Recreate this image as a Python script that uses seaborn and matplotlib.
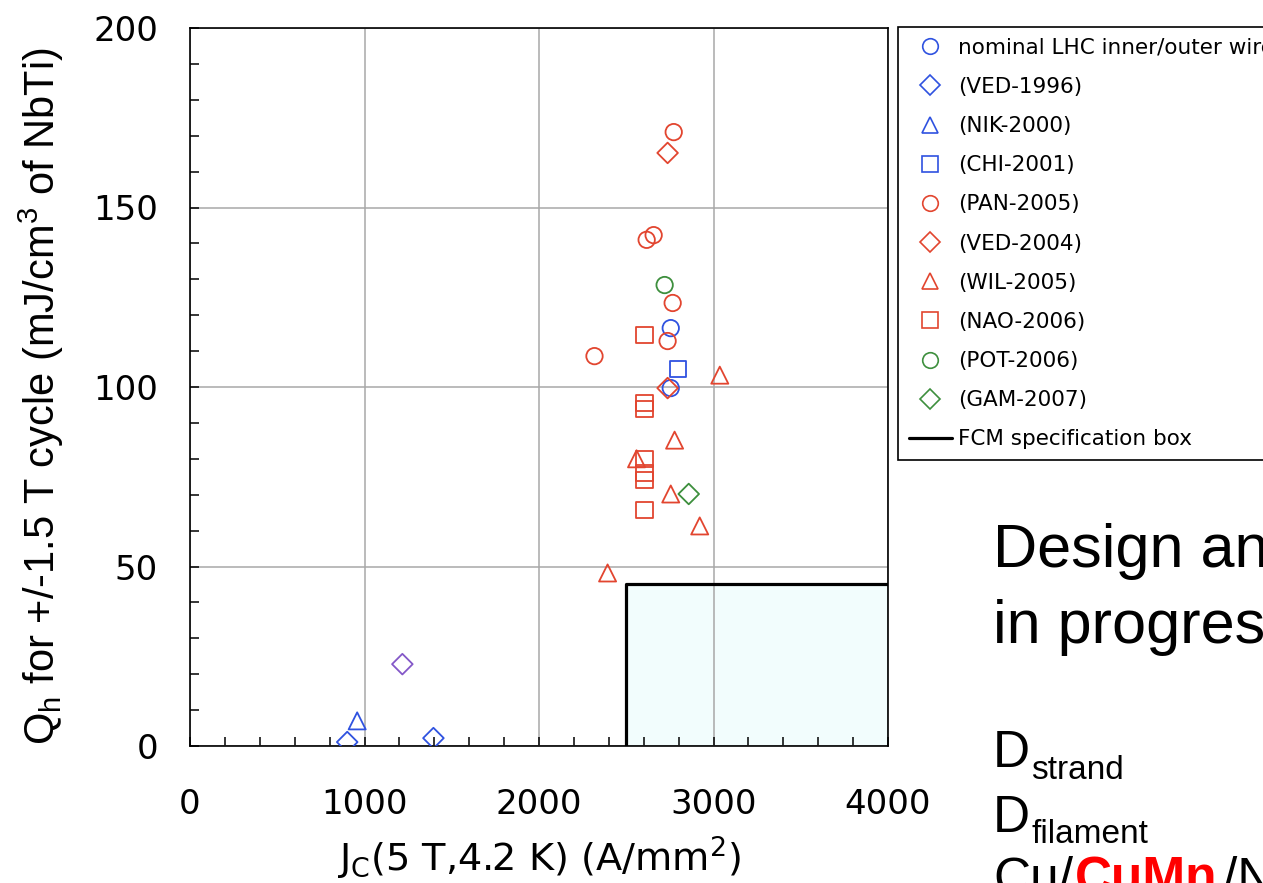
import numpy as np
import pandas as pd
import matplotlib
matplotlib.use("Agg")
import matplotlib.pyplot as plt
import seaborn as sns
from matplotlib.lines import Line2D
from matplotlib.ticker import MultipleLocator

# ---------------- data ----------------
nominal_jc = [2755, 2755]
nominal_qh = [116.4, 99.7]
ved1996_jc = [901, 1395]
ved1996_qh = [1.1, 2.2]
nik2000_jc = [958]
nik2000_qh = [7.0]
chi2001_jc = [2795]
chi2001_qh = [105.0]
pan2005_jc = [2772, 2657, 2617, 2766, 2737, 2318]
pan2005_qh = [171.0, 142.3, 141.0, 123.4, 112.8, 108.6]
ved2004_jc = [2737, 2737]
ved2004_qh = [165.2, 99.7]
wil2005_jc = [3036, 2777, 2559, 2755, 2921, 2393]
wil2005_qh = [103.3, 85.2, 80.0, 70.2, 61.3, 48.2]
nao2006_jc = [2605, 2605, 2605, 2605, 2605, 2605, 2605]
nao2006_qh = [114.5, 95.5, 93.9, 80.0, 76.0, 74.1, 65.7]
pot2006_jc = [2720]
pot2006_qh = [128.4]
gam2007_jc = [2858]
gam2007_qh = [70.2]
# coincident VED-1996 / VED-2004 point (drawn in a mixed violet colour)
overlap_jc = [1217]
overlap_qh = [22.8]

# FCM specification box
box_jc = [2500, 2500, 4000]
box_qh = [0, 45, 45]

series_labels = ["nominal LHC inner/outer wire", "(VED-1996)", "(NIK-2000)",
                 "(CHI-2001)", "(PAN-2005)", "(VED-2004)", "(WIL-2005)",
                 "(NAO-2006)", "(POT-2006)", "(GAM-2007)"]
box_label = "FCM specification box"

x_ticks = [0, 1000, 2000, 3000, 4000]
y_ticks = [0, 50, 100, 150, 200]

# ---------------- style ----------------
BLUE = "#2f52e0"
RED = "#e2452f"
GREEN = "#3d8f3d"
VIOLET = "#8458c8"

series = [
    (nominal_jc, nominal_qh, "o", BLUE),
    (ved1996_jc, ved1996_qh, "D", BLUE),
    (nik2000_jc, nik2000_qh, "^", BLUE),
    (chi2001_jc, chi2001_qh, "s", BLUE),
    (pan2005_jc, pan2005_qh, "o", RED),
    (ved2004_jc, ved2004_qh, "D", RED),
    (wil2005_jc, wil2005_qh, "^", RED),
    (nao2006_jc, nao2006_qh, "s", RED),
    (pot2006_jc, pot2006_qh, "o", GREEN),
    (gam2007_jc, gam2007_qh, "D", GREEN),
]
msize = {"o": 11.8, "D": 10.5, "^": 12.3, "s": 11.8}

sns.set_style("white")
plt.rcParams["font.family"] = ["DejaVu Sans"]
for k in ["text.color", "axes.labelcolor", "xtick.color", "ytick.color"]:
    plt.rcParams[k] = "black"

W, H = 1263, 883
fig = plt.figure(figsize=(W / 100, H / 100), dpi=100)
ax = fig.add_axes([190 / W, 1 - 746 / H, (888 - 190) / W, (746 - 28) / H])

# spec box fill + outline
ax.fill_between(box_jc[1:], [0, 0], box_qh[1:], color="#f2fdfd", zorder=0.2, lw=0)
ax.plot(box_jc, box_qh, color="black", lw=2.3, zorder=2, solid_capstyle="butt")

handles = []
for (xs, ys, m, c), lab in zip(series, series_labels):
    df = pd.DataFrame({"jc": xs, "qh": ys})
    sns.scatterplot(data=df, x="jc", y="qh", marker=m, s=msize[m] ** 2,
                    color=c, facecolor="none", edgecolor=c, linewidth=1.3,
                    ax=ax, zorder=3, legend=False)
    handles.append(Line2D([], [], ls="none", marker=m, markersize=msize[m] * 0.95,
                          markerfacecolor="none", markeredgecolor=c,
                          markeredgewidth=1.2, label=lab))
dfo = pd.DataFrame({"jc": overlap_jc, "qh": overlap_qh})
sns.scatterplot(data=dfo, x="jc", y="qh", marker="D", s=msize["D"] ** 2,
                color=VIOLET, facecolor="none", edgecolor=VIOLET, linewidth=1.3,
                ax=ax, zorder=3, legend=False)
handles.append(Line2D([], [], color="black", lw=2.3, label=box_label))

ax.set_xlim(0, 4000)
ax.set_ylim(0, 200)
ax.set_xticks(x_ticks)
ax.set_yticks(y_ticks)
ax.xaxis.set_minor_locator(MultipleLocator(200))
ax.yaxis.set_minor_locator(MultipleLocator(10))
ax.grid(True, which="major", color="#a8a8a8", lw=1.1)
ax.set_axisbelow(True)
for sp in ax.spines.values():
    sp.set_visible(True)
    sp.set_color("black")
    sp.set_linewidth(1.2)
ax.tick_params(which="both", direction="in", length=6.5, width=1.1, color="black",
               top=False, right=False, bottom=True, left=True)
ax.tick_params(axis="x", which="major", pad=30, labelsize=24.5)
ax.tick_params(axis="y", which="major", pad=23, labelsize=24.5)

ax.set_xlabel(r"J$_\mathregular{C}$(5 T,4.2 K) (A/mm$^\mathregular{2}$)",
              fontsize=27.5, labelpad=10)
ax.set_ylabel(r"Q$_\mathregular{h}$ for +/-1.5 T cycle (mJ/cm$^\mathregular{3}$ of NbTi)",
              fontsize=30, family="Liberation Sans")
ax.yaxis.set_label_coords(-0.178, 0.4875)

leg = ax.legend(handles=handles, loc="upper left",
                bbox_to_anchor=(898 / W, 1 - 27 / H), bbox_transform=fig.transFigure,
                frameon=True, fancybox=False, framealpha=1, edgecolor="black",
                fontsize=15.5, labelspacing=0.89, handlelength=2.0,
                handletextpad=0.3, borderpad=0.5, borderaxespad=0)
leg.get_frame().set_linewidth(1.2)

# ---------------- right-hand slide text (clipped by the figure edge, as in the reference) ----------------
def fy(py):
    return 1 - py / H

sans = "Liberation Sans"
fig.text(993 / W, fy(567), "Design and", fontsize=44, family=sans, va="baseline")
fig.text(993 / W, fy(643), "in progress", fontsize=44, family=sans, va="baseline")
fig.text(993 / W, fy(767), "D", fontsize=37, family=sans, va="baseline")
fig.text(1031 / W, fy(779), "strand", fontsize=24, family=sans, va="baseline")
fig.text(993 / W, fy(832), "D", fontsize=37, family=sans, va="baseline")
fig.text(1031 / W, fy(843), "filament", fontsize=24, family=sans, va="baseline")
fig.text(993 / W, fy(894), "Cu/", fontsize=37, family=sans, va="baseline")
fig.text(1075 / W, fy(894), "CuMn", fontsize=37, family=sans, va="baseline",
         color="#ff0000", weight="bold")
fig.text(1223 / W, fy(894), "/NbTi", fontsize=37, family=sans, va="baseline")

fig.savefig("out.png", dpi=100)
